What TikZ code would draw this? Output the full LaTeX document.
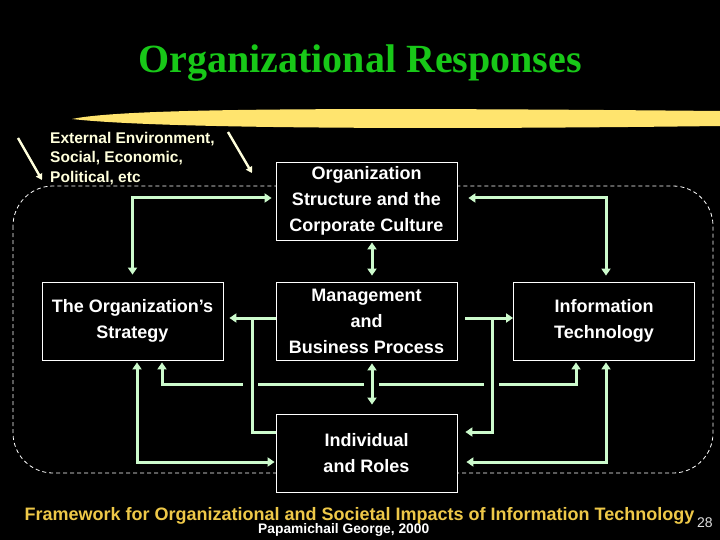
\documentclass[tikz,border=0pt]{standalone}
\usepackage{fontspec}
\setmainfont{Liberation Sans}
\newfontfamily\titlefont{Liberation Serif}
\usetikzlibrary{arrows.meta}
\definecolor{linkgreen}{RGB}{204,250,204}
\definecolor{titlegreen}{RGB}{24,200,24}
\definecolor{footyellow}{RGB}{238,200,72}
\definecolor{cream}{RGB}{255,255,220}
\definecolor{brushgold}{RGB}{238,186,36}
\definecolor{brushlight}{RGB}{255,228,110}

\begin{document}
\begin{tikzpicture}[x=1pt,y=-1pt,
        >={Triangle[length=7pt,width=9pt]},
        box/.style={draw=white,line width=0.8pt,fill=black,text=white,inner sep=0pt,
            minimum width=181pt,minimum height=78pt,align=center,
            font=\bfseries\fontsize{18}{26}\selectfont},
        link/.style={draw=linkgreen,line width=3pt},
        envlink/.style={draw=cream,line width=2.4pt,-{Triangle[length=6pt,width=7pt]}},
        frame/.style={draw=white,line width=0.8pt,dash pattern=on 4pt off 3pt,rounded corners=40pt},
        plain/.style={inner sep=0pt}]
    \fill[black] (0,0) rectangle (720,540);
    \useasboundingbox (0,0) rectangle (720,540);

    \node[plain,anchor=base,text=titlegreen,font=\titlefont\bfseries\fontsize{40}{44}\selectfont] (title) at (360,73) {Organizational Responses};
    \shade[left color=brushlight,middle color=brushgold,right color=brushlight]
        (72,119) .. controls (120,109) and (300,107) .. (720,111) -- (720,126)
        .. controls (400,130) and (150,128) .. (72,119) -- cycle;

    \draw[frame] (13,186) rectangle (713,473);

    \node[plain,anchor=north west,align=left,text=cream,font=\bfseries\fontsize{15.5}{19.5}\selectfont] (env) at (50,132) {External Environment,\\Social, Economic,\\Political, etc};
    \coordinate (e1a) at (18,138);
    \coordinate (e1b) at (42,180);
    \coordinate (e2a) at (228,132);
    \coordinate (e2b) at (252,173);
    \draw[envlink] (e1a) -- (e1b);
    \draw[envlink] (e2a) -- (e2b);

    \node[box] (org) at (366.5,201) {Organization\\Structure and the\\Corporate Culture};
    \node[box] (mgmt) at (366.5,321) {Management\\and\\Business Process};
    \node[box] (strat) at (132.5,321) {The Organization’s\\Strategy};
    \node[box] (it) at (604,321) {Information\\Technology};
    \node[box] (indiv) at (366.5,453) {Individual\\and Roles};

    \coordinate (rowA) at (0,198);
    \coordinate (rowB) at (0,318);
    \coordinate (rowD) at (0,432);
    \coordinate (rowE) at (0,462);
    \coordinate (cl) at (162,384);
    \coordinate (cr) at (576,384);
    \coordinate (jl) at (252,318);
    \coordinate (jr) at (492,318);

    \draw[link,<->,shorten <=2pt,shorten >=2pt] (strat.south -| cl) -- (cl) -- (cr) -- (it.south -| cr);
    \foreach \gx in {250,371,491}
        \fill[black] (\gx-7.5,380) rectangle (\gx+7.5,388);

    \draw[link,<->,shorten <=4pt,shorten >=7pt] (org.west |- rowA) -| (strat.north);
    \draw[link,<->,shorten <=11pt,shorten >=6pt] (org.east |- rowA) -| ([xshift=2pt]it.north);
    \draw[link,<->,shorten <=2pt,shorten >=6pt] ([xshift=5.5pt]org.south) -- ([xshift=5.5pt]mgmt.north);
    \draw[link,->,shorten >=6pt] (mgmt.west |- rowB) -- (strat.east |- rowB);
    \draw[link] (jl) |- (indiv.west |- rowD);
    \draw[link,->,shorten <=8pt] (mgmt.east |- rowB) -- (it.west |- rowB);
    \draw[link,->,shorten >=8pt] (jr) |- (indiv.east |- rowD);
    \draw[link,<->,shorten <=3pt,shorten >=9pt] ([xshift=5.5pt]mgmt.south) -- ([xshift=5.5pt]indiv.north);
    \draw[link,<->,shorten <=2pt,shorten >=1pt] ([xshift=4.5pt]strat.south) |- (indiv.west |- rowE);
    \draw[link,<->,shorten <=2pt,shorten >=9pt] ([xshift=2pt]it.south) |- (indiv.east |- rowE);

    \node[plain,anchor=base,text=footyellow,font=\bfseries\fontsize{18}{20}\selectfont] (framework) at (359.5,520) {Framework for Organizational and Societal Impacts of Information Technology};
    \node[plain,anchor=base west,text=white,font=\bfseries\fontsize{13.8}{16}\selectfont] (author) at (258,533) {Papamichail George, 2000};
    \node[plain,anchor=base west,text=white!88!black,font=\fontsize{14}{16}\selectfont] (page) at (697,527) {28};
\end{tikzpicture}
\end{document}
